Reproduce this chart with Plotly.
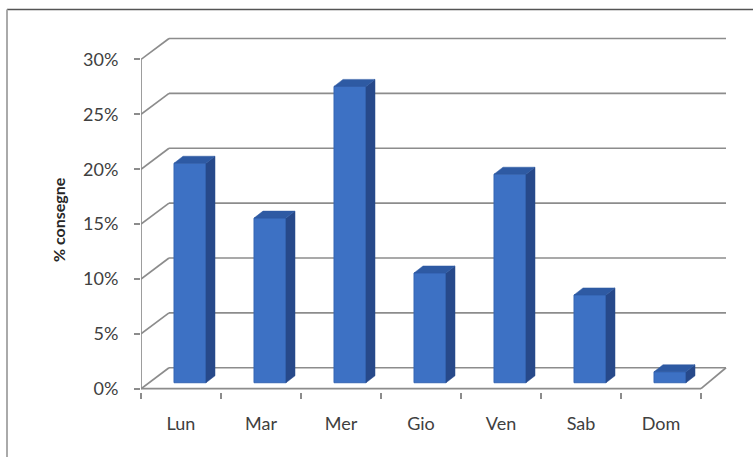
import plotly.graph_objects as go

# ---- data ----
categories = ["Lun", "Mar", "Mer", "Gio", "Ven", "Sab", "Dom"]
values = [20, 15, 27, 10, 19, 8, 1]          # % consegne
y_ticks = [0, 5, 10, 15, 20, 25, 30]
y_ticktext = ["0%", "5%", "10%", "15%", "20%", "25%", "30%"]
y_title = "% consegne"

# ---- geometry (3D look), in axis units ----
PX_X = 80.0      # px per category
PX_Y = 11.0      # px per percent
back_dx_left = 28 / PX_X
back_dx_right = 25 / PX_X
back_dy = 21 / PX_Y
bar_off_x = 9 / PX_X
bar_off_y = 6 / PX_Y
bar_w = 32 / PX_X
depth_dx = 9 / PX_X
depth_dy = 7 / PX_Y

n = len(categories)
x_left, x_right = -0.5, n - 0.5
xr = [-0.5, 6.85]
yr = [-0.3, 32.5]

W, H = 753, 457
ml = 141
plot_w = (xr[1] - xr[0]) * PX_X
mr = W - ml - plot_w
y_bottom_px = 389 + (0 - yr[0]) * PX_Y
plot_h = (yr[1] - yr[0]) * PX_Y
mb = H - y_bottom_px
mt = y_bottom_px - plot_h

grid_col = "#8c8c8c"
fig = go.Figure()

shapes = []
def line(x0, y0, x1, y1, col=grid_col, w=1.7):
    shapes.append(dict(type="line", xref="x", yref="y", x0=x0, y0=y0, x1=x1, y1=y1,
                       line=dict(color=col, width=w), layer="below"))

# back wall gridlines and left diagonals
for v in y_ticks:
    line(x_left + back_dx_left, v + back_dy, x_right + back_dx_right, v + back_dy)
    line(x_left, v, x_left + back_dx_left, v + back_dy)
# front vertical axis
line(x_left, 0, x_left, y_ticks[-1])
# floor front edge and right side
line(x_left, 0, x_right, 0)
line(x_right, 0, x_right + back_dx_right, back_dy)

# frame around chart area (paper coords)
def px2paper_x(px):
    return (px - ml) / plot_w
def px2paper_y(py):
    return (y_bottom_px - py) / plot_h
shapes.append(dict(type="line", xref="paper", yref="paper",
                   x0=px2paper_x(7), y0=px2paper_y(9), x1=px2paper_x(760), y1=px2paper_y(9),
                   line=dict(color="#555555", width=1.5)))
shapes.append(dict(type="line", xref="paper", yref="paper",
                   x0=px2paper_x(7), y0=px2paper_y(9), x1=px2paper_x(7), y1=px2paper_y(470),
                   line=dict(color="#aaaaaa", width=2)))

# ---- bars: front face ----
front_x = [i + bar_off_x for i in range(n)]
fig.add_trace(go.Bar(
    x=front_x, y=values, base=[bar_off_y] * n, width=bar_w,
    marker=dict(color="#3d71c4", line=dict(color="#3566b4", width=1)),
    hoverinfo="skip", showlegend=False,
))

# side and top faces
for i, v in enumerate(values):
    xl = front_x[i] - bar_w / 2
    xrr = front_x[i] + bar_w / 2
    b = bar_off_y
    t = bar_off_y + v
    fig.add_trace(go.Scatter(
        x=[xrr, xrr + depth_dx, xrr + depth_dx, xrr, xrr],
        y=[b, b + depth_dy, t + depth_dy, t, b],
        fill="toself", fillcolor="#27498a", mode="lines",
        line=dict(color="#27498a", width=0.5), hoverinfo="skip", showlegend=False))
    fig.add_trace(go.Scatter(
        x=[xl, xl + depth_dx, xrr + depth_dx, xrr, xl],
        y=[t, t + depth_dy, t + depth_dy, t, t],
        fill="toself", fillcolor="#2e5aa3", mode="lines",
        line=dict(color="#2e5aa3", width=0.5), hoverinfo="skip", showlegend=False))

font_family = "Lato, 'Open Sans', sans-serif"
fig.update_layout(
    width=W, height=H,
    margin=dict(l=ml, r=mr, t=mt, b=mb, pad=0),
    paper_bgcolor="white", plot_bgcolor="white",
    shapes=shapes,
    font=dict(family=font_family, size=18, color="#404040"),
    xaxis=dict(range=xr, showgrid=False, zeroline=False, showline=False,
               tickvals=list(range(n)), ticktext=categories, ticks="",
               ticklabelstandoff=19,
               minor=dict(tickvals=[x_left + k for k in range(n + 1)], ticks="outside",
                          ticklen=6, tickcolor=grid_col, tickwidth=1.7, showgrid=False)),
    yaxis=dict(range=yr, showgrid=False, zeroline=False, showline=False,
               tickvals=y_ticks, ticktext=y_ticktext, ticks="outside",
               ticklen=6, tickcolor=grid_col, tickwidth=1.7, ticklabelstandoff=12),
    annotations=[dict(text="<b>" + y_title + "</b>", xref="paper", yref="paper",
                      x=px2paper_x(58), y=px2paper_y(220), textangle=-90,
                      showarrow=False, font=dict(size=16, color="#262626"),
                      xanchor="center", yanchor="middle")],
)

fig.write_html("out.html")
